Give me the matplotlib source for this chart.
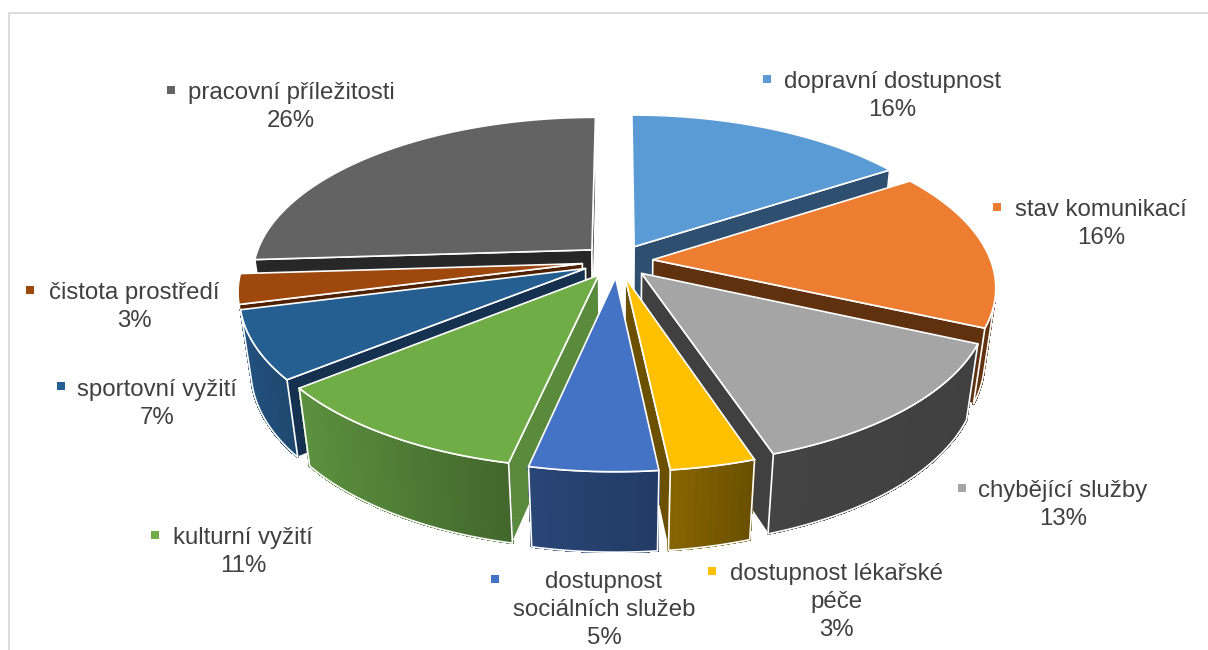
import numpy as np
import matplotlib
matplotlib.use("Agg")
import matplotlib.pyplot as plt
from matplotlib.patches import Polygon
from matplotlib.collections import PolyCollection

# --- data ---
labels = ["dopravní dostupnost", "stav komunikací", "chybějící služby",
          "dostupnost lékařské\npéče", "dostupnost\nsociálních služeb",
          "kulturní vyžití", "sportovní vyžití", "čistota prostředí",
          "pracovní příležitosti"]
values = [15.8, 15.9, 13.2, 3.4, 5.1, 10.8, 6.8, 3.0, 26.0]

# --- styles ---
top_colors = ["#5B9BD5", "#ED7D31", "#A5A5A5", "#FFC000", "#4472C4",
              "#70AD47", "#255E91", "#9E480E", "#636363"]
radial_colors = ["#2E4F6F", "#60310F", "#404040", "#6B5000", "#223B66",
                 "#5A8A3C", "#16304F", "#4F2100", "#272727"]
side_left = ["#3A6A94", "#6E3A12", "#444444", "#876500", "#2A4676",
             "#5C913F", "#23527F", "#6E320A", "#3E3E3E"]
side_right = ["#2E5478", "#60310F", "#404040", "#684E00", "#223B66",
              "#43672C", "#1E4970", "#5F2B08", "#333333"]
label_pos = [(892, 82), (1101, 210), (1063, 491), (836, 574), (604, 582),
             (243, 538), (157, 390), (134, 293), (291, 93)]
marker_pos = [(767, 79), (997, 207), (962, 488), (712, 571), (495, 579),
              (155, 535), (61, 386), (30, 290), (171, 90)]
LINE = 28
FONT = 17.3
TEXT = "#404040"

# --- projection ---
CX, CY = 617.5, 261
S, SQ = 338.0, 157.0
P, T = 0.16, 0.03
HH = 75.0
EXPLODE = 0.105


def project(x, y, low):
    x = np.asarray(x, float)
    y = np.asarray(y, float)
    w = 1 + P * y + (T if low else 0)
    sx = CX + S * x / w
    sy = CY + (-SQ * y + (HH if low else 0)) / w
    return np.column_stack([sx, sy])


def area(v):
    x, y = v[:, 0], v[:, 1]
    return 0.5 * np.sum(x * np.roll(y, -1) - np.roll(x, -1) * y)


def mix(c1, c2, f):
    a = np.array(matplotlib.colors.to_rgb(c1))
    b = np.array(matplotlib.colors.to_rgb(c2))
    return tuple(a + (b - a) * f)


fig = plt.figure(figsize=(12.08, 6.5), dpi=100)
ax = fig.add_axes([0, 0, 1, 1])
ax.set_xlim(0, 1208)
ax.set_ylim(650, 0)
ax.axis("off")
ax.plot([9, 9, 1208], [650, 12.5, 12.5], color="#D9D9D9", lw=1.3, zorder=0)

plt.rcParams["font.family"] = ["Liberation Sans", "DejaVu Sans"]

vals = np.array(values, float)
edges = np.concatenate([[0], np.cumsum(vals)]) / vals.sum() * 2 * np.pi
mids = (edges[:-1] + edges[1:]) / 2
order = np.argsort(-np.cos(mids))
WHITE = dict(edgecolor="white", linewidth=1.2, joinstyle="round")

z = 1
for i in order:
    a0, a1 = edges[i], edges[i + 1]
    ox, oy = EXPLODE * np.sin(mids[i]), EXPLODE * np.cos(mids[i])
    ang = np.linspace(a0, a1, max(int((a1 - a0) * 60), 6))
    ax_, ay_ = ox + np.sin(ang), oy + np.cos(ang)
    top_arc = project(ax_, ay_, False)
    bot_arc = project(ax_, ay_, True)
    tip_t = project([ox], [oy], False)
    tip_b = project([ox], [oy], True)

    # radial faces
    start_face = np.vstack([tip_t, top_arc[0], bot_arc[0], tip_b])
    end_face = np.vstack([top_arc[-1], tip_t, tip_b, bot_arc[-1]])
    for face in (start_face, end_face):
        if area(face) < 0:
            ax.add_patch(Polygon(face, closed=True, facecolor=radial_colors[i],
                                 zorder=z, **WHITE))
            z += 1

    # outer side, shaded strip by strip (no antialiasing, so no seams)
    quads, cols, vis = [], [], []
    xmin, xmax = top_arc[:, 0].min(), top_arc[:, 0].max()
    for k in range(len(ang) - 1):
        q = np.vstack([top_arc[k], top_arc[k + 1], bot_arc[k + 1], bot_arc[k]])
        if area(q) < 0:
            f = (q[:, 0].mean() - xmin) / max(xmax - xmin, 1)
            quads.append(q)
            cols.append(mix(side_left[i], side_right[i], f))
            vis.append(k)
    if quads:
        ax.add_collection(PolyCollection(quads, facecolors=cols, edgecolors=cols,
                                         linewidths=1.0, antialiaseds=False, zorder=z))
        z += 1
        k0, k1 = vis[0], vis[-1] + 1
        outline = np.vstack([top_arc[k0:k1 + 1], bot_arc[k0:k1 + 1][::-1]])
        ax.add_patch(Polygon(outline, closed=True, facecolor="none", zorder=z, **WHITE))
        z += 1

    # top face
    ax.add_patch(Polygon(np.vstack([tip_t, top_arc]), closed=True,
                         facecolor=top_colors[i], zorder=z, **WHITE))
    z += 1

for i, (lab, val) in enumerate(zip(labels, values)):
    lines = lab.split("\n") + [f"{round(val)}%"]
    x, y = label_pos[i]
    for j, line in enumerate(lines):
        ax.text(x, y + j * LINE, line, ha="center", va="center", fontsize=FONT,
                color=TEXT, zorder=z + 1)
    ax.plot(*marker_pos[i], marker="s", ms=5.4, color=top_colors[i], mew=0, zorder=z + 1)

fig.savefig("out.png", dpi=100, facecolor="white")
